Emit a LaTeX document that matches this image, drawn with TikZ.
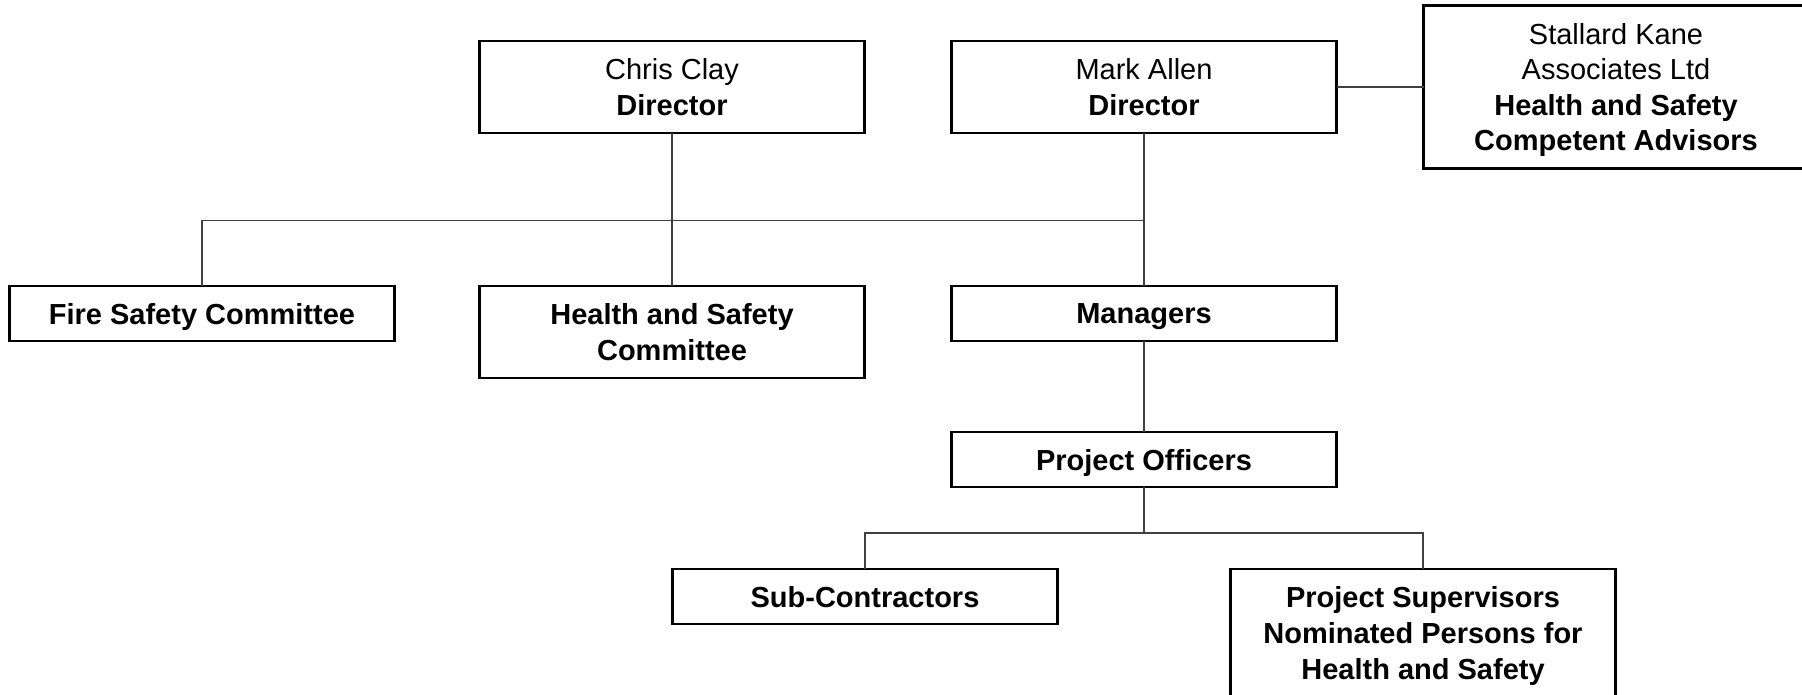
\documentclass[tikz,border=0pt]{standalone}
\usepackage{fontspec}
\setmainfont{Liberation Sans}
\usetikzlibrary{calc}
\usetikzlibrary{positioning}
\tikzset{
  every picture/.style={font={\fontsize{14.5}{17.8}\selectfont}}}

\begin{document}
\begin{tikzpicture}[node distance=43.5pt,
    role/.style={draw, line width=1.4pt, fill=white, align=center, text depth=0pt,
      minimum width=192.5pt, minimum height=27.5pt, inner sep=0pt, outer sep=0pt},
    link/.style={draw=black!75, line width=0.7pt}]

    \useasboundingbox (0,0) rectangle (901pt,-347.5pt);

    \begin{scope}
      \node[role, minimum height=46pt] (CC) at (336pt,-43.5pt) {Chris Clay\\\textbf{Director}};
      \node[role, minimum height=46pt] (MA) [right=of CC] {Mark Allen\\\textbf{Director}};
      \node[role, minimum height=81.5pt] (SK) [right=of MA]
        {Stallard Kane\\Associates Ltd\\\textbf{Health and Safety}\\\textbf{Competent Advisors}};
    \end{scope}

    \begin{scope}
      \node[role, minimum height=46pt] (HSC) [below=76.5pt of CC] {\textbf{Health and Safety}\\\textbf{Committee}};
      \node[role] (FSC) [left=42.5pt of HSC.north west, anchor=north east] {\textbf{Fire Safety Committee}};
      \node[role] (MGR) [below=76.5pt of MA] {\textbf{Managers}};
      \node[role] (PO) [below=45.5pt of MGR] {\textbf{Project Officers}};
    \end{scope}

    \begin{scope}
      \node[role] (SC) at ($(PO.south)+(-139.5pt,-41pt)$) [anchor=north] {\textbf{Sub-Contractors}};
      \node[role, minimum height=64pt] (PS) at ($(PO.south)+(139.5pt,-41pt)$) [anchor=north]
        {\textbf{Project Supervisors}\\\textbf{Nominated Persons for}\\\textbf{Health and Safety}};
    \end{scope}

    \coordinate (busA) at ($(CC.south)!0.57!(HSC.north)$);
    \coordinate (busB) at ($(PO.south)!0.56!(PO.south |- SC.north)$);

    \path[link] (MA.east) -- (SK.west);
    \path[link] (CC.south) -- (HSC.north);
    \path[link] (MA.south) -- (MGR.north);
    \path[link] (FSC.north) |- (MA.south |- busA);
    \path[link] (MGR.south) -- (PO.north);
    \path[link] (PO.south) -- (busB);
    \path[link] (SC.north) |- (busB) -| (PS.north);
  \end{tikzpicture}
\end{document}
